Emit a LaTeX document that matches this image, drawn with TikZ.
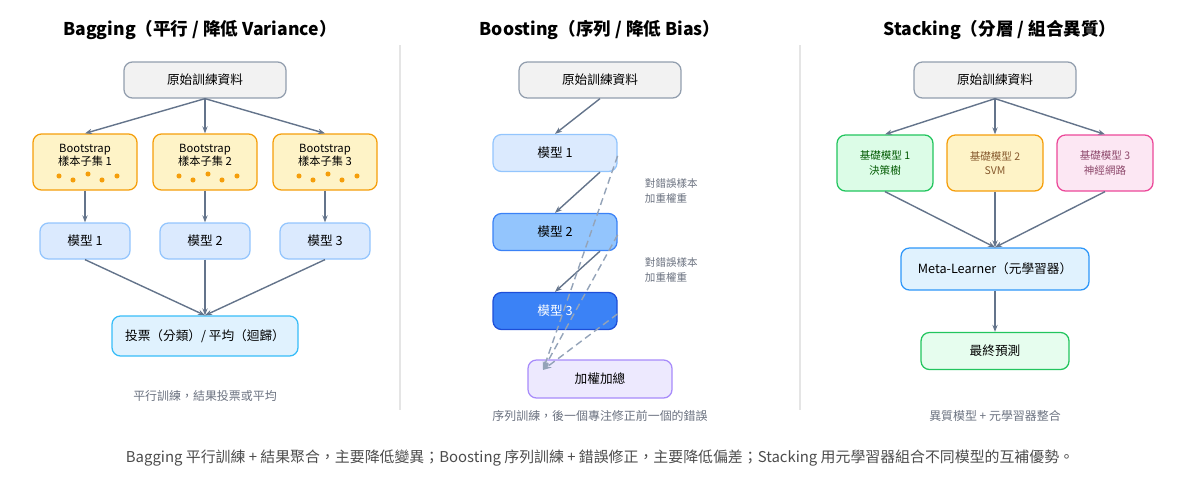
\documentclass[tikz,border=0pt]{standalone}
\usepackage{fontspec}
\setmainfont{Noto Sans CJK TC}
\usetikzlibrary{positioning,arrows.meta}
\definecolor{edgegray}{HTML}{64748B}
\definecolor{dashgray}{HTML}{94A3B8}
\definecolor{textgray}{HTML}{6B7280}
\definecolor{lightblue}{HTML}{DBEAFE}
\definecolor{midblue}{HTML}{93C5FD}
\definecolor{strongblue}{HTML}{3B82F6}
\definecolor{darkblue}{HTML}{1D4ED8}
\definecolor{ambfill}{HTML}{FEF3C7}
\definecolor{ambdraw}{HTML}{F59E0B}
\definecolor{grnfill}{HTML}{DCFCE7}
\definecolor{grndraw}{HTML}{22C55E}
\definecolor{pnkfill}{HTML}{FCE7F3}
\definecolor{pnkdraw}{HTML}{EC4899}
\definecolor{cyanfill}{HTML}{E0F2FE}
\definecolor{cyandraw}{HTML}{38BDF8}
\definecolor{vltfill}{HTML}{EDE9FE}
\definecolor{vltdraw}{HTML}{A78BFA}
\tikzset{mybox/.style={rectangle,draw,rounded corners=6pt,line width=0.9pt,align=center,font=\fontsize{9}{11}\selectfont},
databox/.style={mybox,draw=edgegray!70,fill=gray!10,minimum width=162*0.025cm,minimum height=36*0.025cm},
bootbox/.style={mybox,draw=ambdraw,fill=ambfill,minimum width=104*0.025cm,minimum height=56*0.025cm,font=\fontsize{8}{9.5}\selectfont},
modelbox/.style={mybox,draw=midblue,fill=lightblue,minimum width=90*0.025cm,minimum height=36*0.025cm},
boostbox/.style={mybox,minimum width=124*0.025cm,minimum height=37*0.025cm},
basebox/.style={mybox,minimum width=96*0.025cm,minimum height=56*0.025cm,font=\fontsize{7.5}{10}\selectfont},
link/.style={-{Stealth[length=5pt]},edgegray,line width=1pt},
dashlink/.style={-{Stealth[length=6pt]},dashgray,line width=1pt,dashed,dash pattern=on 5pt off 3pt},
title/.style={font=\bfseries\fontsize{12.5}{14}\selectfont},
caption/.style={font=\fontsize{8.5}{10}\selectfont,text=textgray}}
\newcommand{\dotrow}[1]{
\foreach \dx/\dy in {-26/14,-12/18,3/12,17/18,32/14}
  \fill[ambdraw] ([xshift=\dx*0.025cm,yshift=-\dy*0.025cm]#1.center) circle (1.8pt);
}
\begin{document}
\begin{tikzpicture}[x=0.025cm,y=-0.025cm]
    \useasboundingbox (0,0) rectangle (1200,480);
    % dividers
    \draw[gray!20,line width=0.8pt] (400,45) -- (400,410) (800,45) -- (800,410);
    % bagging
    \node[title] (bag-title) at (200,30) {Bagging（平行 / 降低 Variance）};
    \node[databox] (bag-data) at (205,80) {原始訓練資料};
    \foreach \i/\x in {1/85,2/205,3/325}{
      \node[bootbox] (boot-\i) at (\x,162) {Bootstrap\\樣本子集 \i\\[1pt]};
      \dotrow{boot-\i}
      \node[modelbox] (bag-m\i) at (\x,241) {模型 \i};
      \draw[link] (boot-\i) -- (bag-m\i);
    }
    \draw[link] (bag-data.south) -- (boot-1.north);
    \draw[link] (bag-data.south) -- (boot-2.north);
    \draw[link] (bag-data.south) -- (boot-3.north);
    \node[mybox,draw=cyandraw,fill=cyanfill,minimum width=186*0.025cm,minimum height=40*0.025cm] (vote) at (205,336) {投票（分類）/ 平均（迴歸）};
    \foreach \i in {1,2,3} \draw[link] (bag-m\i.south) -- (vote.north);
    \node[caption] (bag-cap) at (205,396) {平行訓練，結果投票或平均};
    % boosting
    \node[title] (boost-title) at (600,30) {Boosting（序列 / 降低 Bias）};
    \node[databox] (boost-data) at (600,80) {原始訓練資料};
    \node[boostbox,draw=midblue,fill=lightblue] (boost-m1) at (555,153) {模型 1};
    \node[boostbox,draw=strongblue,fill=midblue] (boost-m2) at (555,232) {模型 2};
    \node[boostbox,draw=darkblue,fill=strongblue,text=white] (boost-m3) at (555,311) {模型 3};
    \node[mybox,draw=vltdraw,fill=vltfill,minimum width=144*0.025cm,minimum height=38*0.025cm] (weighted) at (600,379) {加權加總};
    \coordinate (sum-in) at (543,370);
    \draw[link] (boost-data.south) -- (boost-m1.north);
    \draw[link] ([xshift=45*0.025cm]boost-m1.south) -- (boost-m2.north);
    \draw[link] ([xshift=45*0.025cm]boost-m2.south) -- (boost-m3.north);
    \draw[dashlink] ([yshift=-2pt]boost-m1.east) -- (sum-in);
    \draw[dashlink] ([yshift=-2pt]boost-m2.east) -- (sum-in);
    \draw[dashlink] ([yshift=-2pt]boost-m3.east) -- (sum-in);
    \node[caption,font=\fontsize{7.5}{11}\selectfont,align=left,anchor=west] (note-1) at (640,191) {對錯誤樣本\\加重權重};
    \node[caption,font=\fontsize{7.5}{11}\selectfont,align=left,anchor=west] (note-2) at (640,270) {對錯誤樣本\\加重權重};
    \node[caption] (boost-cap) at (600,416) {序列訓練，後一個專注修正前一個的錯誤};
    % stacking
    \node[title] (stack-title) at (1000,30) {Stacking（分層 / 組合異質）};
    \node[databox] (stack-data) at (995,80) {原始訓練資料};
    \node[basebox,draw=grndraw,fill=grnfill,text=green!35!black] (base-1) at (885,163) {基礎模型 1\\決策樹};
    \node[basebox,draw=ambdraw,fill=ambfill,text=brown!70!black] (base-2) at (995,163) {基礎模型 2\\SVM};
    \node[basebox,draw=pnkdraw,fill=pnkfill,text=magenta!50!black] (base-3) at (1105,163) {基礎模型 3\\神經網路};
    \node[mybox,draw=cyandraw!80!blue,fill=cyanfill,minimum width=188*0.025cm,minimum height=42*0.025cm] (meta) at (995,269) {Meta-Learner（元學習器）};
    \node[mybox,draw=grndraw,fill=grnfill!70,minimum width=148*0.025cm,minimum height=37*0.025cm] (final) at (995,351) {最終預測};
    \foreach \i in {1,2,3}{
      \draw[link] (stack-data.south) -- (base-\i.north);
      \draw[link] (base-\i.south) -- (meta.north);
    }
    \draw[link] (meta) -- (final);
    \node[caption] (stack-cap) at (995,416) {異質模型 + 元學習器整合};
    % summary
    \node[font=\fontsize{10.6}{12}\selectfont,text=black!70] (summary) at (600,458) {Bagging 平行訓練 + 結果聚合，主要降低變異；Boosting 序列訓練 + 錯誤修正，主要降低偏差；Stacking 用元學習器組合不同模型的互補優勢。};
\end{tikzpicture}
\end{document}
